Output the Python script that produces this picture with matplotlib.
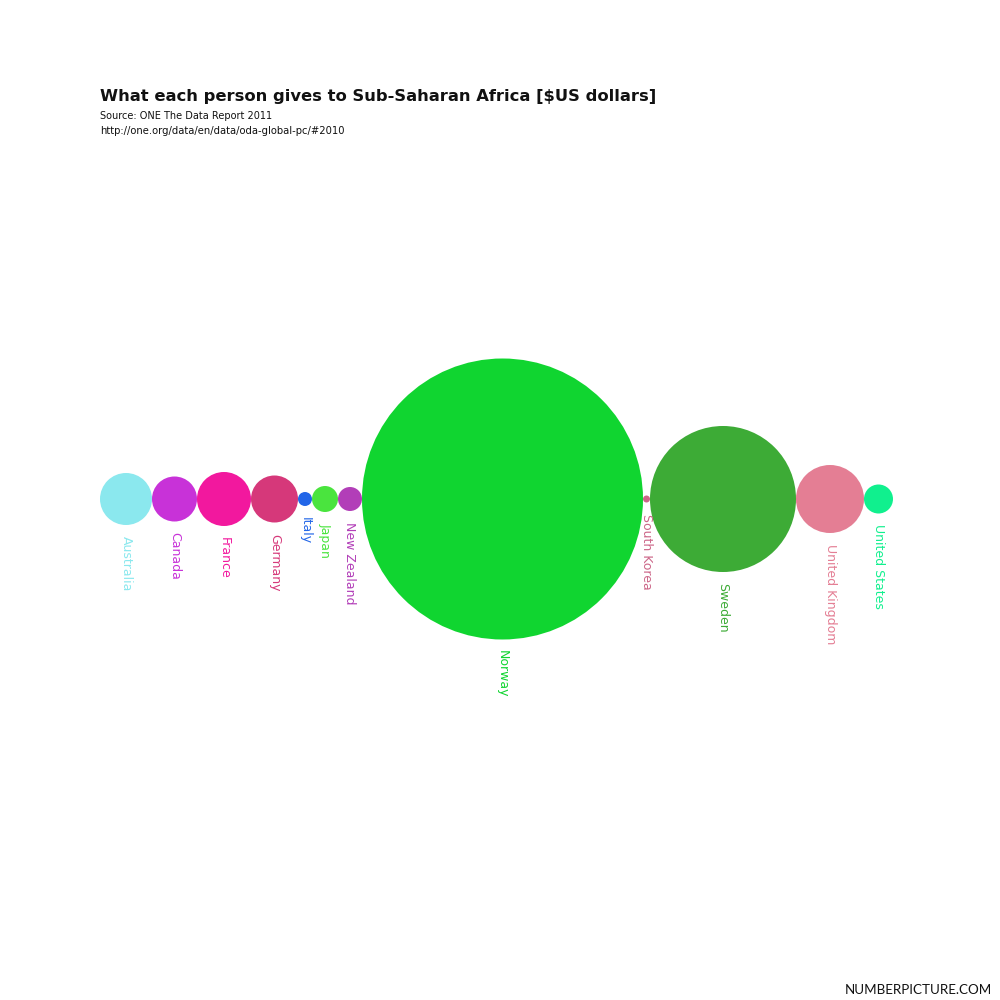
import matplotlib
matplotlib.use("Agg")
import matplotlib.pyplot as plt
from matplotlib.patches import Circle

countries = ["Australia", "Canada", "France", "Germany", "Italy", "Japan",
             "New Zealand", "Norway", "South Korea", "Sweden",
             "United Kingdom", "United States"]
values = [52, 45, 54, 47, 14, 26, 24, 281, 7, 146, 68, 29]
colors = ["#8be8ee", "#c832d8", "#f2189e", "#d6387a", "#2266e8", "#4ae43e",
          "#b23eb8", "#10d530", "#cc6688", "#3dab36", "#e47e94", "#10f08e"]

title = "What each person gives to Sub-Saharan Africa [$US dollars]"
source1 = "Source: ONE The Data Report 2011"
source2 = "http://one.org/data/en/data/oda-global-pc/#2010"

fig = plt.figure(figsize=(10, 10), dpi=100)
ax = fig.add_axes([0, 0, 1, 1])
ax.set_xlim(0, 1000)
ax.set_ylim(1000, 0)
ax.set_aspect("equal")
ax.axis("off")

scale = 0.5  # radius per dollar
cy = 499
x = 100.0
for name, v, c in zip(countries, values, colors):
    r = v * scale
    cx = x + r
    ax.add_patch(Circle((cx, cy), r, facecolor=c, edgecolor="none"))
    ax.text(cx, cy + r + 11, name, rotation=-90, ha="center", va="top",
            color=c, fontsize=9, family=["DejaVu Sans"])
    x = cx + r

ax.text(100, 101, title, fontsize=11.8, fontweight="bold", color="#111111",
        family=["DejaVu Sans"], va="baseline")
ax.text(100, 119, source1, fontsize=7, color="#111111",
        family=["DejaVu Sans"], va="baseline")
ax.text(100, 134, source2, fontsize=7.2, color="#111111",
        family=["DejaVu Sans"], va="baseline")
ax.text(992, 994, "NUMBERPICTURE.COM", fontsize=9.6, color="#111111",
        family=["Lato", "DejaVu Sans"], ha="right", va="baseline")

fig.savefig("out.png", dpi=100, facecolor="white")
